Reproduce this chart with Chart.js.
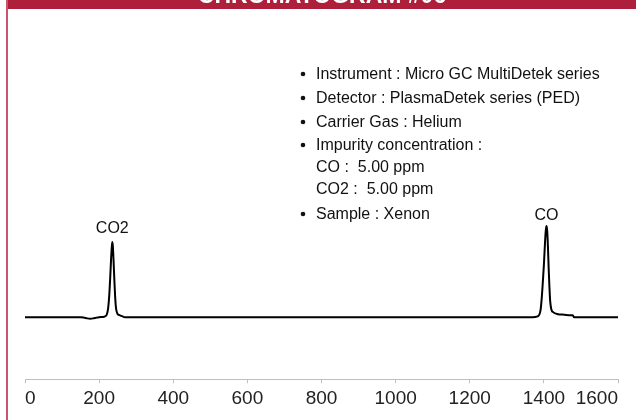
<!DOCTYPE html>
<html>
<head>
<meta charset="utf-8">
<script src="https://cdn.jsdelivr.net/npm/chart.js@4/dist/chart.umd.min.js"></script>
<style>
  html, body { margin: 0; padding: 0; background: #fff; }
  #wrap { width: 636px; height: 420px; position: relative; }
</style>
</head>
<body>
<div id="wrap"><canvas id="c" width="636" height="420"></canvas></div>
<script>
// ---- data (retention time vs detector signal, arbitrary units) ----
const retentionTime = [0, 150, 160, 168, 176, 184, 192, 200, 214, 220, 224, 227, 230, 232, 234, 235.6, 237, 239, 241, 243, 245, 247, 250, 255, 262, 270, 1370, 1381, 1387, 1391, 1394, 1397, 1400, 1403, 1405, 1407, 1409, 1411, 1413, 1415, 1417, 1420, 1425, 1438, 1455, 1470, 1478, 1481, 1600];
const signal        = [0, 0,   -0.5, -1.2, -1.5, -1.2, -0.5, 0,  0.5, 2,   8,   20,  40,  56,  69,  75,    71,  56,  38,  22,  11,  6,   3,   2,   1,   0,   0,    0.5,  2,    7,    18,   34,   52,   74,   86,   91,   86,   70,   48,   30,   16,   8,    5,    3,    2.5,  2,    2,    0,    0];
const xTicks = [0, 200, 400, 600, 800, 1000, 1200, 1400, 1600];
const peakNames = ["CO2", "CO"];
const peakLabelX = [235.6, 1407];
const peakLabelY = [84, 97];
const titleText = "CHROMATOGRAM #06";
const infoLines = [
  { bullet: true,  text: "Instrument : Micro GC MultiDetek series" },
  { bullet: true,  text: "Detector : PlasmaDetek series (PED)" },
  { bullet: true,  text: "Carrier Gas : Helium" },
  { bullet: true,  text: "Impurity concentration :" },
  { bullet: false, text: "CO :  5.00 ppm" },
  { bullet: false, text: "CO2 :  5.00 ppm" },
  { bullet: true,  text: "Sample : Xenon" }
];
const infoBaselines = [79, 103, 127, 150, 172, 194, 219];

const points = retentionTime.map((t, i) => ({ x: t, y: signal[i] }));

const decorPlugin = {
  id: 'decor',
  beforeDraw(chart) {
    const ctx = chart.ctx;
    ctx.save();
    ctx.fillStyle = '#ffffff';
    ctx.fillRect(0, 0, chart.width, chart.height);
    ctx.fillStyle = '#ad1f3b';
    ctx.fillRect(6, 0, chart.width - 6, 9);
    ctx.fillStyle = '#c8566c';
    ctx.fillRect(6, 0, 2, chart.height);
    ctx.fillStyle = '#ffffff';
    ctx.font = 'bold 23px "Liberation Sans", Arial, sans-serif';
    ctx.textAlign = 'center';
    ctx.textBaseline = 'alphabetic';
    ctx.fillText(titleText, 322, 3);
    ctx.restore();
  },
  afterDraw(chart) {
    const ctx = chart.ctx;
    const xs = chart.scales.x, ys = chart.scales.y;
    ctx.save();
    ctx.fillStyle = '#111111';
    ctx.font = '16px "Liberation Sans", Arial, sans-serif';
    ctx.textAlign = 'center';
    ctx.textBaseline = 'alphabetic';
    peakNames.forEach((n, i) => {
      ctx.fillText(n, xs.getPixelForValue(peakLabelX[i]), ys.getPixelForValue(peakLabelY[i]));
    });
    ctx.textAlign = 'left';
    ctx.font = '16px "Liberation Sans", Arial, sans-serif';
    infoLines.forEach((l, i) => {
      const y = infoBaselines[i];
      if (l.bullet) {
        ctx.beginPath();
        ctx.arc(303, y - 5, 2.3, 0, Math.PI * 2);
        ctx.fill();
      }
      ctx.fillText(l.text, 316, y);
    });
    ctx.restore();
  }
};

new Chart(document.getElementById('c'), {
  type: 'scatter',
  data: {
    datasets: [{
      data: points,
      showLine: true,
      borderColor: '#000000',
      borderWidth: 2,
      pointRadius: 0,
      cubicInterpolationMode: 'monotone',
      fill: false
    }]
  },
  options: {
    responsive: false,
    animation: false,
    devicePixelRatio: 1,
    layout: { padding: { left: 25, right: 18, top: 24, bottom: 6 } },
    plugins: { legend: { display: false }, tooltip: { enabled: false } },
    scales: {
      x: {
        type: 'linear',
        min: 0, max: 1600,
        afterBuildTicks: (scale) => { scale.ticks = xTicks.map(v => ({ value: v })); },
        afterFit: (scale) => { scale.paddingLeft = 0; scale.paddingRight = 0; },
        ticks: {
          color: '#222222',
          font: { size: 19, family: '"Liberation Sans", Arial, sans-serif' },
          padding: 4,
          maxRotation: 0,
          autoSkip: false,
          align: 'inner',
          callback: (v) => String(v)
        },
        grid: { drawOnChartArea: false, drawTicks: true, tickLength: 4, color: '#bfbfbf', lineWidth: 1 },
        border: { display: true, color: '#bfbfbf', width: 1 }
      },
      y: {
        display: false,
        min: -62, max: 293
      }
    }
  },
  plugins: [decorPlugin]
});
</script>
</body>
</html>
